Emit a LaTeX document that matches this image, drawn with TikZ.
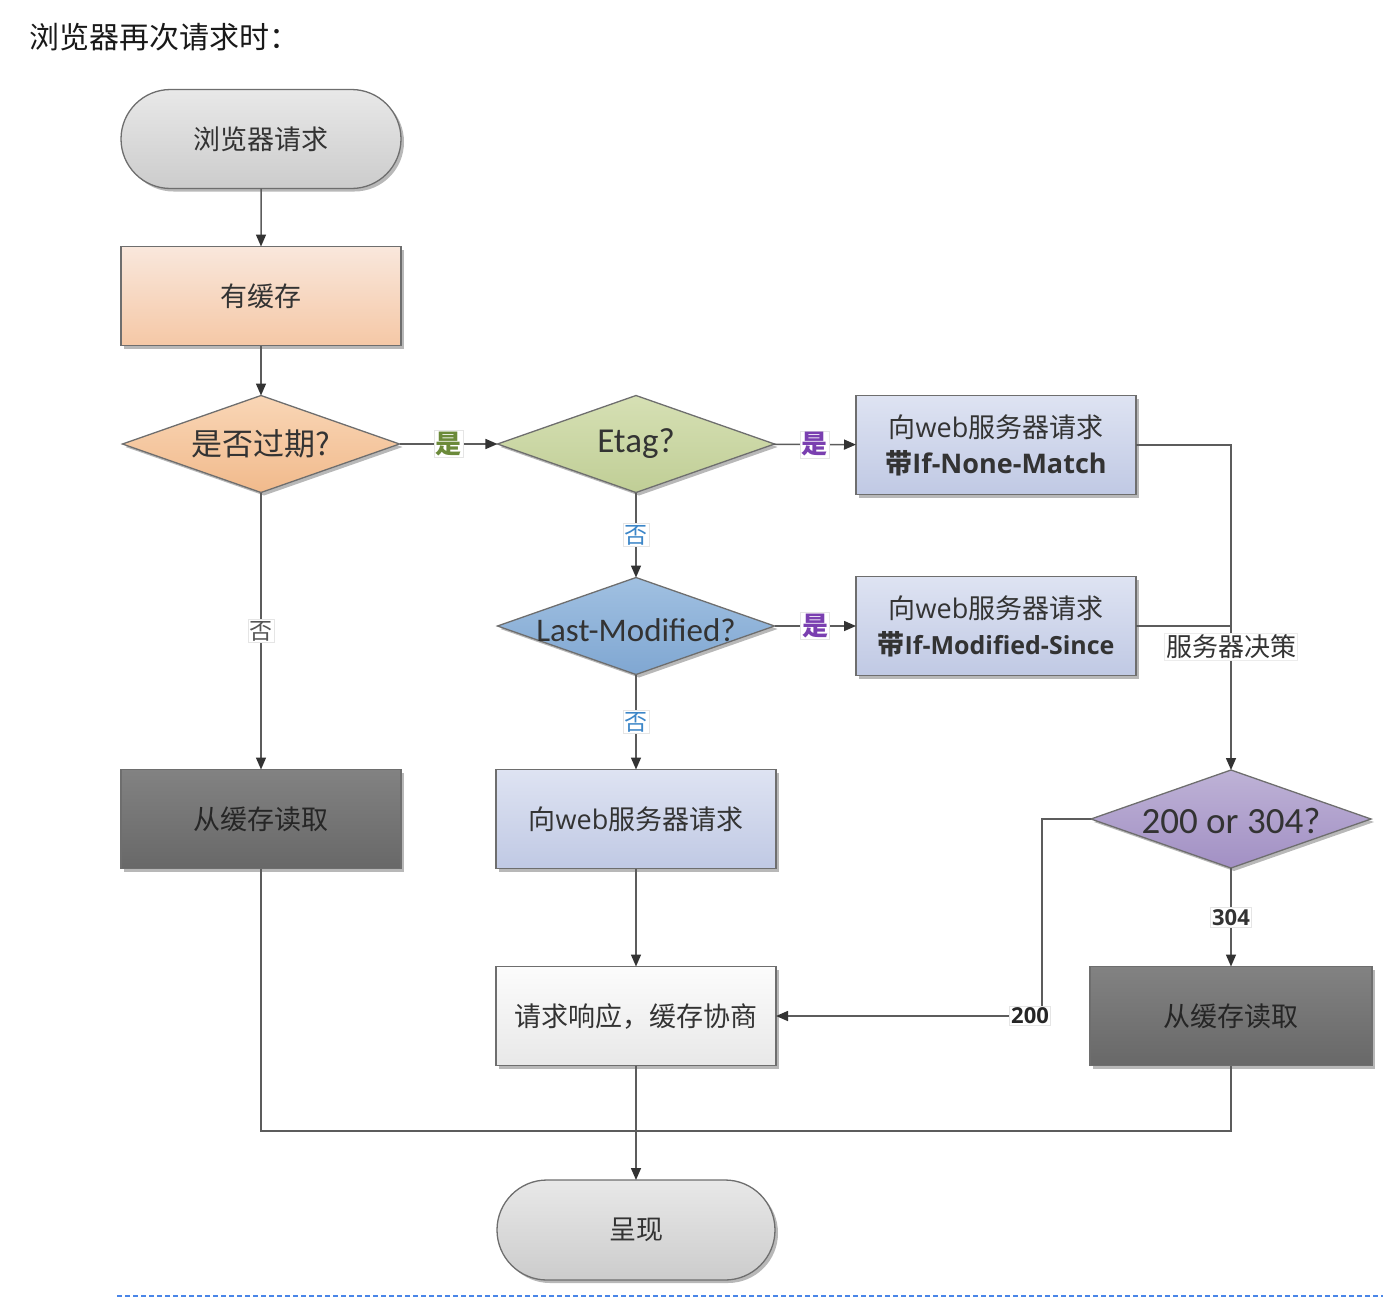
\documentclass[tikz,border=0pt]{standalone}
\usepackage{fontspec}
\setmainfont{Noto Sans CJK SC}
\newfontfamily\zhf{Noto Sans CJK SC}
\newfontfamily\osf{Open Sans}
\newfontfamily\clf{Carlito}
\usetikzlibrary{shapes.geometric,shapes.misc,arrows.meta,shadows}
\definecolor{bordc}{HTML}{6E6E6E}
\definecolor{linec}{HTML}{5C5C5C}
\definecolor{headc}{HTML}{333333}
\definecolor{textc}{HTML}{333333}
\definecolor{yesG}{HTML}{6B8A3A}
\definecolor{yesP}{HTML}{7A3FB0}
\definecolor{noB}{HTML}{3C86C8}
\definecolor{noG}{HTML}{555555}
\definecolor{dashb}{HTML}{4A86E8}
\newcommand{\fs}[1]{\fontsize{#1}{#1}\selectfont}
\tikzset{
  base/.style={draw=bordc, line width=1.3pt, outer sep=0pt, inner sep=0pt, text=textc,
    drop shadow={shadow xshift=3pt, shadow yshift=-3pt, fill=black, opacity=0.28}},
  terminal/.style={base, rounded rectangle, minimum width=280pt, minimum height=99pt,
    top color=gray!18, bottom color=gray!40, font=\zhf\fs{27}},
  boxs/.style={base, rectangle, minimum width=280pt, minimum height=99pt, font=\zhf\fs{27}, align=center},
  dia/.style={base, diamond, minimum width=277pt, minimum height=97pt},
  line/.style={draw=linec, line width=1.5pt},
  arr/.style={line, -{Triangle[length=12pt,width=10pt,color=headc]}},
  lbl/.style={fill=white, draw=gray!20, line width=0.6pt, inner sep=1.5pt, font=\zhf\bfseries\fs{26}},
  nolbl/.style={lbl, font=\zhf\fs{23}},
}
\begin{document}
\begin{tikzpicture}[x=1pt,y=-1pt]
\useasboundingbox (0,0) rectangle (1393,1302);
\node[anchor=west, font=\zhf\fs{30}, text=black!90] (title) at (26,37) {浏览器再次请求时：};

\node[terminal] (start) at (261,139) {浏览器请求};
\node[boxs, top color={rgb,255:red,249;green,231;blue,220}, bottom color={rgb,255:red,245;green,200;blue,166}] (cache) at (261,296) {有缓存};
\node[dia, top color={rgb,255:red,249;green,214;blue,182}, bottom color={rgb,255:red,241;green,186;blue,140},
  label={[name=expT, font=\zhf\fs{31}, text=textc]center:是否过期?}] (exp) at (261,444) {};
\node[dia, top color={rgb,255:red,214;green,224;blue,180}, bottom color={rgb,255:red,192;green,206;blue,150},
  label={[name=etagT, font=\clf\fs{35}, text=textc]center:Etag?}] (etag) at (636,444) {};
\node[boxs, top color={rgb,255:red,222;green,227;blue,242}, bottom color={rgb,255:red,192;green,201;blue,228}] (b1) at (996,445)
  {{\zhf 向}{\osf web}{\zhf 服务器请求}\\[9pt]{\zhf\bfseries 带}{\osf\bfseries If-None-Match}};
\node[dia, top color={rgb,255:red,160;green,192;blue,225}, bottom color={rgb,255:red,128;green,167;blue,210},
  label={[name=lmT, font=\clf\fs{33}, text=textc, yshift=-4pt]center:Last-Modified?}] (lm) at (636,626) {};
\node[boxs, top color={rgb,255:red,222;green,227;blue,242}, bottom color={rgb,255:red,192;green,201;blue,228}] (b2) at (996,626)
  {{\zhf 向}{\osf web}{\zhf 服务器请求}\\[9pt]{\zhf\bfseries 带}{\osf\bfseries\fs{25}If-Modified-Since}};
\node[boxs, top color={rgb,255:red,130;green,130;blue,130}, bottom color={rgb,255:red,104;green,104;blue,104}, text=black!85] (readL) at (261,819) {从缓存读取};
\node[boxs, top color={rgb,255:red,222;green,227;blue,242}, bottom color={rgb,255:red,192;green,201;blue,228}] (web) at (636,819)
  {{\zhf 向}{\osf web}{\zhf 服务器请求}};
\node[dia, minimum width=280pt, minimum height=98pt, top color={rgb,255:red,190;green,178;blue,214}, bottom color={rgb,255:red,162;green,144;blue,196},
  label={[name=decT, font=\clf\fs{37}, text=textc, yshift=-2pt]center:200 or 304?}] (dec) at (1231,819) {};
\node[boxs, top color={rgb,255:red,252;green,252;blue,252}, bottom color={rgb,255:red,232;green,232;blue,232}] (resp) at (636,1016) {请求响应，缓存协商};
\node[boxs, minimum width=282pt, top color={rgb,255:red,130;green,130;blue,130}, bottom color={rgb,255:red,104;green,104;blue,104}, text=black!85] (readR) at (1231,1016) {从缓存读取};
\node[terminal, minimum width=278pt, minimum height=100pt] (end) at (636,1230) {呈现};

\coordinate (c200) at (1042,1016);
\coordinate (merge) at (636,1131);

\draw[arr] (start) -- (cache);
\draw[arr] (cache) -- (exp);
\draw[arr] (exp) -- node[lbl, text=yesG] {是} (etag);
\draw[arr] (etag) -- node[lbl, text=yesP] {是} (b1);
\draw[arr] (etag) -- node[nolbl, text=noB] {否} (lm);
\draw[arr] (lm) -- node[lbl, text=yesP] {是} (b2);
\draw[arr] (lm) -- node[nolbl, text=noB] {否} (web);
\draw[arr] (exp) -- node[nolbl, text=noG] {否} (readL);
\draw[arr] (b1.east) -| node[pos=0.81, lbl, draw=gray!15, text=textc, font=\zhf\fs{26}] {服务器决策} (dec.north);
\draw[line] (b2.east) -- (b2.east -| dec.north);
\draw[arr] (dec.west) -| (c200) -- node[pos=0.045, lbl, text=black!85, font=\osf\bfseries\fs{22}] {200} (resp.east);
\draw[arr] (dec) -- node[lbl, text=textc, font=\osf\bfseries\fs{22}] {304} (readR);
\draw[arr] (web) -- (resp);
\draw[arr] (resp) -- (end);
\draw[line] (readL.south) |- (merge);
\draw[line] (readR.south) |- (merge);

\draw[dashb, line width=1.6pt, dash pattern=on 5pt off 3pt] (117,1296) -- (1383,1296);
\end{tikzpicture}
\end{document}
